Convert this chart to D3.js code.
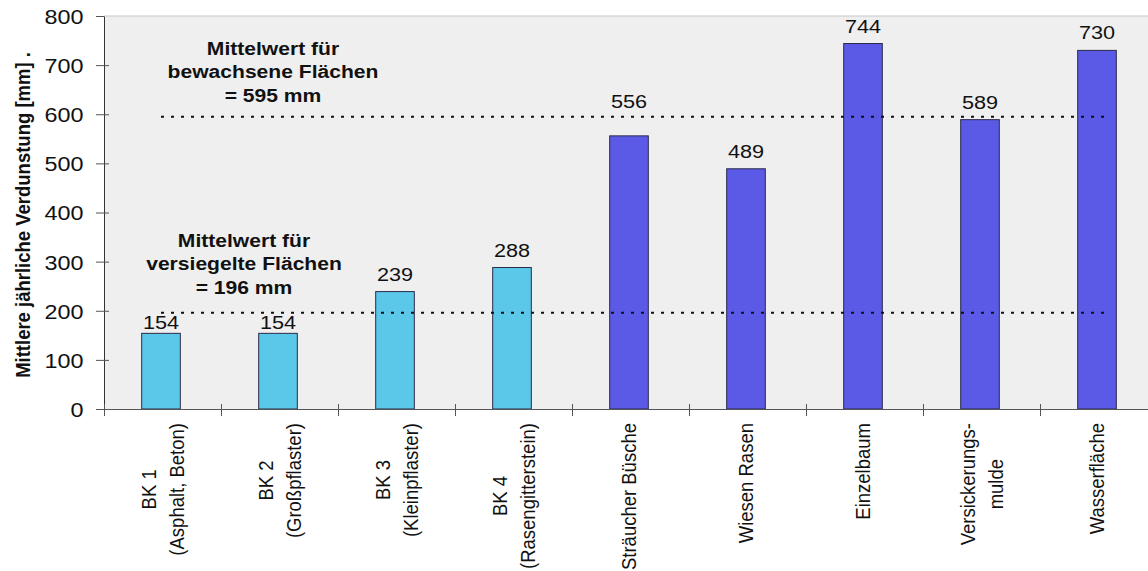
<!DOCTYPE html>
<html>
<head>
<meta charset="utf-8">
<script src="https://cdn.jsdelivr.net/npm/d3@7"></script>
<style>
body { margin:0; background:#fff; }
text { font-family: "Liberation Sans", Arial, sans-serif; fill:#111; }
</style>
</head>
<body>
<svg id="graph"></svg>
<script>
// categories (lines of each x label) and values
var labels = [
    ["BK 1", "(Asphalt, Beton)"],
    ["BK 2", "(Großpflaster)"],
    ["BK 3", "(Kleinpflaster)"],
    ["BK 4", "(Rasengitterstein)"],
    ["Sträucher Büsche"],
    ["Wiesen Rasen"],
    ["Einzelbaum"],
    ["Versickerungs-", "mulde"],
    ["Wasserfläche"]
]
var values = [154, 154, 239, 288, 556, 489, 744, 589, 730]
var groups = ["versiegelt", "versiegelt", "versiegelt", "versiegelt", "bewachsen", "bewachsen", "bewachsen", "bewachsen", "bewachsen"]
var yTicks = [0, 100, 200, 300, 400, 500, 600, 700, 800]

// mean lines and their notes
var means = [196, 595]
var meanNotes = [
    ["Mittelwert für", "versiegelte Flächen", "= 196 mm"],
    ["Mittelwert für", "bewachsene Flächen", "= 595 mm"]
]

var colors = {versiegelt:"#5bc8ea", bewachsen:"#5a5ae6"}

var screen = {width:1148, height:571}
var plot = {left:104, top:16, bottom:409, right:1157}
var sx = 1.14   // the source text is a little wide

var svg = d3.select("#graph")
    .attr("width", screen.width)
    .attr("height", screen.height)

var xscale = d3.scaleBand()
    .domain(d3.range(values.length))
    .range([plot.left, plot.right])
    .paddingInner(0.67)
    .paddingOuter(0.335)

var yscale = d3.scaleLinear()
    .domain([0, 800])
    .range([plot.bottom, plot.top])

// plot background
svg.append("rect")
    .attr("x", plot.left)
    .attr("y", plot.top)
    .attr("width", plot.right - plot.left)
    .attr("height", plot.bottom - plot.top)
    .attr("fill", "#efefef")

svg.append("line")
    .attr("x1", plot.left).attr("x2", plot.right)
    .attr("y1", plot.top).attr("y2", plot.top)
    .attr("stroke", "#c8c8c8")

// bars
svg.selectAll("rect.bar")
    .data(values)
    .enter()
    .append("rect")
    .attr("class", "bar")
    .attr("x", function(d, i) { return xscale(i) - 1.5 })
    .attr("y", function(d) { return yscale(d) })
    .attr("width", xscale.bandwidth())
    .attr("height", function(d) { return yscale(0) - yscale(d) })
    .attr("fill", function(d, i) { return colors[groups[i]] })
    .attr("stroke", "#2a2a4a")
    .attr("stroke-width", 1)

// dashed mean lines
svg.selectAll("line.mean")
    .data(means)
    .enter()
    .append("line")
    .attr("class", "mean")
    .attr("x1", 161).attr("x2", 1106)
    .attr("y1", function(d) { return yscale(d) })
    .attr("y2", function(d) { return yscale(d) })
    .attr("stroke", "#111")
    .attr("stroke-width", 2)
    .attr("stroke-dasharray", "3,7")

// value labels: above the bar; a bar close under a mean line gets its label above the line,
// otherwise the label is pulled down onto the bar when the line would cut it
var labelY = function(d) {
    var base = yscale(d) - 11
    means.forEach(function(m) {
        var ly = yscale(m)
        if (ly >= base - 15 && ly <= base + 4) {
            if (d >= m * 0.9 && d <= m) base = ly - 9
            else base = yscale(d) - 4
        }
    })
    return base
}

svg.selectAll("text.value")
    .data(values)
    .enter()
    .append("text")
    .attr("class", "value")
    .attr("transform", function(d, i) {
        return "translate(" + (xscale(i) - 1.5 + xscale.bandwidth() / 2) + "," + labelY(d) + ") scale(" + sx + ",1)"
    })
    .attr("text-anchor", "middle")
    .style("font-size", "19px")
    .text(function(d) { return d })

// mean notes
var notePos = [{x:244, y:247}, {x:273, y:55}]
meanNotes.forEach(function(lines, k) {
    var t = svg.append("g")
        .attr("transform", "translate(" + notePos[k].x + "," + notePos[k].y + ") scale(" + sx + ",1)")
        .append("text")
        .attr("text-anchor", "middle")
        .style("font-size", "18.5px")
        .style("font-weight", "bold")
    lines.forEach(function(s, j) {
        t.append("tspan")
            .attr("x", 0)
            .attr("y", j * 23.5)
            .text(s)
    })
})

// y axis
var yAxis = d3.axisLeft(yscale)
    .tickValues(yTicks)
    .tickSizeInner(8)
    .tickSizeOuter(0)
    .tickPadding(6)

var gy = svg.append("g")
    .attr("transform", "translate(" + plot.left + ",0)")
    .call(yAxis)
gy.select(".domain").attr("stroke", "#333")
gy.selectAll(".tick line").attr("stroke", "#555").attr("x2", -8).attr("x1", function(d) { return d == 800 ? 0 : 5 })
gy.selectAll(".tick text")
    .style("font-size", "20.5px")
    .style("font-family", "'Liberation Sans', Arial, sans-serif")
    .attr("fill", "#111")
    .attr("transform", "scale(" + sx + ",1)")
    .attr("x", -20.5 / sx)
    .attr("dy", "0.36em")

// x axis with ticks between the categories
var xb = d3.scaleLinear().domain([0, values.length]).range([plot.left, plot.right])
var xAxis = d3.axisBottom(xb)
    .ticks(values.length)
    .tickSizeInner(7)
    .tickSizeOuter(0)
    .tickFormat("")
var gx = svg.append("g")
    .attr("transform", "translate(0," + plot.bottom + ")")
    .call(xAxis)
gx.select(".domain").attr("stroke", "#555")
gx.selectAll(".tick line").attr("stroke", "#555").attr("y1", -5)

// rotated category labels, block centred, long line ending just under the axis
labels.forEach(function(lines, i) {
    var cx = xscale(i) - 1.5 + xscale.bandwidth() / 2
    var g = svg.append("g")
    var t = g.append("text")
        .attr("text-anchor", "middle")
        .style("font-size", "18.5px")
    var n = lines.length
    lines.forEach(function(s, j) {
        t.append("tspan")
            .attr("x", 0)
            .attr("y", (j - (n - 1) / 2) * 24 + 6 + (n - 1) * 2)
            .text(s)
    })
    var w = d3.max(t.selectAll("tspan").nodes(), function(nd) { return nd.getComputedTextLength() })
    g.attr("transform", "translate(" + cx + "," + (423 + w / 2) + ") scale(" + sx + ",1) rotate(-90)")
})

// y axis title
svg.append("text")
    .attr("transform", "translate(30,215) scale(" + sx + ",1) rotate(-90)")
    .attr("text-anchor", "middle")
    .style("font-size", "18.5px")
    .style("font-weight", "bold")
    .text("Mittlere jährliche Verdunstung [mm] .")
</script>
</body>
</html>
